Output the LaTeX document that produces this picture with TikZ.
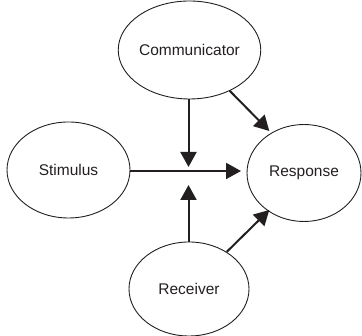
\documentclass[tikz,border=0pt]{standalone}
\usepackage{fontspec}
\setmainfont{Liberation Sans}
\usetikzlibrary{shapes.geometric,arrows.meta}
\definecolor{ink}{HTML}{231F20}
\begin{document}
\begin{tikzpicture}[x=1pt,y=1pt,
  ell/.style={ellipse,draw=ink,line width=0.9pt,inner sep=0pt,font=\fontsize{15.5}{18}\selectfont,text=ink},
  conn/.style={draw=ink,line width=2pt,-{Triangle[length=15pt,width=16pt]}}]
\useasboundingbox (0,0) rectangle (362,336);
\node[ell,minimum width=121pt,minimum height=98pt] (comm) at (189.5,286) {Communicator};
\node[ell,minimum width=123pt,minimum height=96pt] (stim) at (68.5,166) {Stimulus};
\node[ell,minimum width=114pt,minimum height=97pt] (resp) at (304,163) {Response};
\node[ell,minimum width=120pt,minimum height=94pt] (recv) at (189,47) {Receiver};
\coordinate (tdown) at (188.5,169);
\coordinate (tup) at (188.5,151);
\coordinate (tright) at (241,165);
\coordinate (tA) at (269.3,205);
\coordinate (tB) at (269.3,126);
\draw[conn] (comm.south -| tdown) -- (tdown);
\draw[conn] (recv.north -| tup) -- (tup);
\draw[conn] (stim.east |- tright) -- (tright);
\draw[conn] (comm) -- (tA);
\draw[conn] (recv) -- (tB);
\end{tikzpicture}
\end{document}
